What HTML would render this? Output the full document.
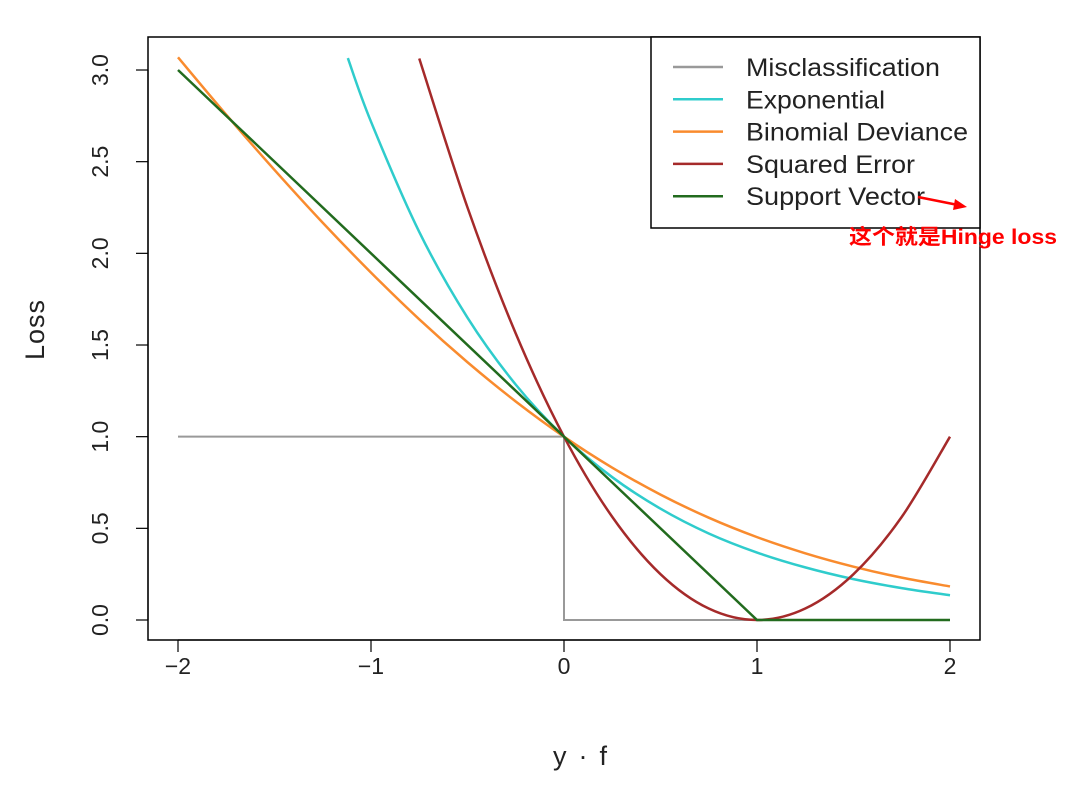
<!DOCTYPE html>
<html><head><meta charset="utf-8">
<style>
html,body{margin:0;padding:0;background:#fff;}
svg{display:block;font-family:"Liberation Sans","Noto Sans CJK SC",sans-serif;}
</style></head>
<body>
<svg id="chart" width="1085" height="787" viewBox="0 0 1085 787" xmlns="http://www.w3.org/2000/svg">
<rect x="148" y="37" width="832" height="603" fill="none" stroke="#000" stroke-width="1.5"/>
<g id="axes"></g>
<g id="series"></g>
<text x="44" y="330" font-size="27" text-anchor="middle" transform="rotate(-90 44 330)" fill="#222" textLength="60">Loss</text>
<text x="580" y="765" font-size="27" text-anchor="middle" fill="#222" textLength="54">y · f</text>
<g>
<rect x="651" y="37" width="329" height="191" fill="#fff" stroke="#000" stroke-width="1.5"/>
<g id="legend-items"></g>
</g>
<g>
<line x1="918" y1="197" x2="958" y2="205" stroke="#f00" stroke-width="2.5"/>
<polygon points="967,207 955,199 953,210" fill="#f00"/>
<text x="849" y="244" font-size="21" font-weight="bold" fill="#f00" textLength="208" lengthAdjust="spacingAndGlyphs">这个就是Hinge loss</text>
</g>
</svg>
<script>
const xTicks = [-2, -1, 0, 1, 2];
const xTickLabels = ["\u22122", "\u22121", "0", "1", "2"];
const yTicks = [0, 0.5, 1, 1.5, 2, 2.5, 3];
const yTickLabels = ["0.0", "0.5", "1.0", "1.5", "2.0", "2.5", "3.0"];
const seriesNames = ["Misclassification", "Exponential", "Binomial Deviance", "Squared Error", "Support Vector"];
const legendWidths = [194, 139, 222, 169, 179];
const misX = [-2, 0, 0, 2];
const misY = [1, 1, 0, 0];
const expX = [-1.12, -1, -0.75, -0.5, -0.25, 0, 0.25, 0.5, 0.75, 1, 1.25, 1.5, 1.75, 2];
const expY = [3.065, 2.718, 2.117, 1.649, 1.284, 1, 0.779, 0.607, 0.472, 0.368, 0.287, 0.223, 0.174, 0.135];
const binX = [-2, -1.75, -1.5, -1.25, -1, -0.75, -0.5, -0.25, 0, 0.25, 0.5, 0.75, 1, 1.25, 1.5, 1.75, 2];
const binY = [3.069, 2.756, 2.455, 2.167, 1.895, 1.640, 1.406, 1.192, 1, 0.831, 0.684, 0.558, 0.452, 0.364, 0.291, 0.231, 0.183];
const sqX = [-0.75, -0.5, -0.25, 0, 0.25, 0.5, 0.75, 1, 1.25, 1.5, 1.75, 2];
const sqY = [3.0625, 2.25, 1.5625, 1, 0.5625, 0.25, 0.0625, 0, 0.0625, 0.25, 0.5625, 1];
const svX = [-2, 1, 2];
const svY = [3, 0, 0];

const NS = "http://www.w3.org/2000/svg";
function sx(v){ return 178 + (v + 2) * 193; }
function sy(v){ return 620 - v * 183.33; }
function mk(tag, attrs, parent){
  const e = document.createElementNS(NS, tag);
  for (const k in attrs) e.setAttribute(k, attrs[k]);
  parent.appendChild(e);
  return e;
}
const axes = document.getElementById("axes");
mk("line", {x1: sx(xTicks[0]), x2: sx(xTicks[xTicks.length-1]), y1: 640, y2: 640, stroke: "#000", "stroke-width": 1.2}, axes);
xTicks.forEach((t, i) => {
  const l = mk("line", {x1: sx(t), x2: sx(t), y1: 640, y2: 652, stroke: "#000", "stroke-width": 1.2}, axes);
  
  
  const tx = mk("text", {x: sx(t), y: 674, "font-size": 23, "text-anchor": "middle", fill: "#222"}, axes);
  tx.textContent = xTickLabels[i];
  
  
});
yTicks.forEach((t, i) => {
  const l = mk("line", {x1: 136, x2: 148, y1: sy(t), y2: sy(t), stroke: "#000", "stroke-width": 1.2}, axes);
  
  
  const tx = mk("text", {x: 108, y: sy(t), "font-size": 23, "text-anchor": "middle", fill: "#222", transform: "rotate(-90 108 " + sy(t) + ")"}, axes);
  tx.textContent = yTickLabels[i];
  
  
});
mk("line", {x1: 148, x2: 148, y1: sy(yTicks[0]), y2: sy(yTicks[yTicks.length-1]), stroke: "#000", "stroke-width": 1.2}, axes);

function linePath(xs, ys){
  return xs.map((x, i) => (i ? "L" : "M") + sx(x).toFixed(2) + "," + sy(ys[i]).toFixed(2)).join(" ");
}
function smoothPath(xs, ys){
  const p = xs.map((x, i) => [sx(x), sy(ys[i])]);
  let d = "M" + p[0][0] + "," + p[0][1];
  for (let i = 0; i < p.length - 1; i++){
    const p0 = p[Math.max(0, i-1)], p1 = p[i], p2 = p[i+1], p3 = p[Math.min(p.length-1, i+2)];
    const c1 = [p1[0] + (p2[0]-p0[0])/6, p1[1] + (p2[1]-p0[1])/6];
    const c2 = [p2[0] - (p3[0]-p1[0])/6, p2[1] - (p3[1]-p1[1])/6];
    d += " C" + c1.join(",") + " " + c2.join(",") + " " + p2.join(",");
  }
  return d;
}
const colors = ["#999999", "#2fcccc", "#f98b2e", "#a52a2a", "#226b1e"];
const g = document.getElementById("series");
const s1 = mk("path", {d: linePath(misX, misY), fill: "none", stroke: colors[0], "stroke-width": 2}, g);


const s2 = mk("path", {d: smoothPath(expX, expY), fill: "none", stroke: colors[1], "stroke-width": 2.5}, g);


const s3 = mk("path", {d: smoothPath(binX, binY), fill: "none", stroke: colors[2], "stroke-width": 2.5}, g);


const s4 = mk("path", {d: smoothPath(sqX, sqY), fill: "none", stroke: colors[3], "stroke-width": 2.5}, g);


const s5 = mk("path", {d: linePath(svX, svY), fill: "none", stroke: colors[4], "stroke-width": 2.5}, g);



const lg = document.getElementById("legend-items");
seriesNames.forEach((n, i) => {
  const y = 67 + i * 32.3;
  const l = mk("line", {x1: 673, x2: 723, y1: y, y2: y, stroke: colors[i], "stroke-width": 2.5}, lg);
  
  
  const t = mk("text", {x: 746, y: y + 9, "font-size": 25, fill: "#222", textLength: legendWidths[i], lengthAdjust: "spacingAndGlyphs"}, lg);
  t.textContent = n;
  
  
});
</script>
</body></html>
